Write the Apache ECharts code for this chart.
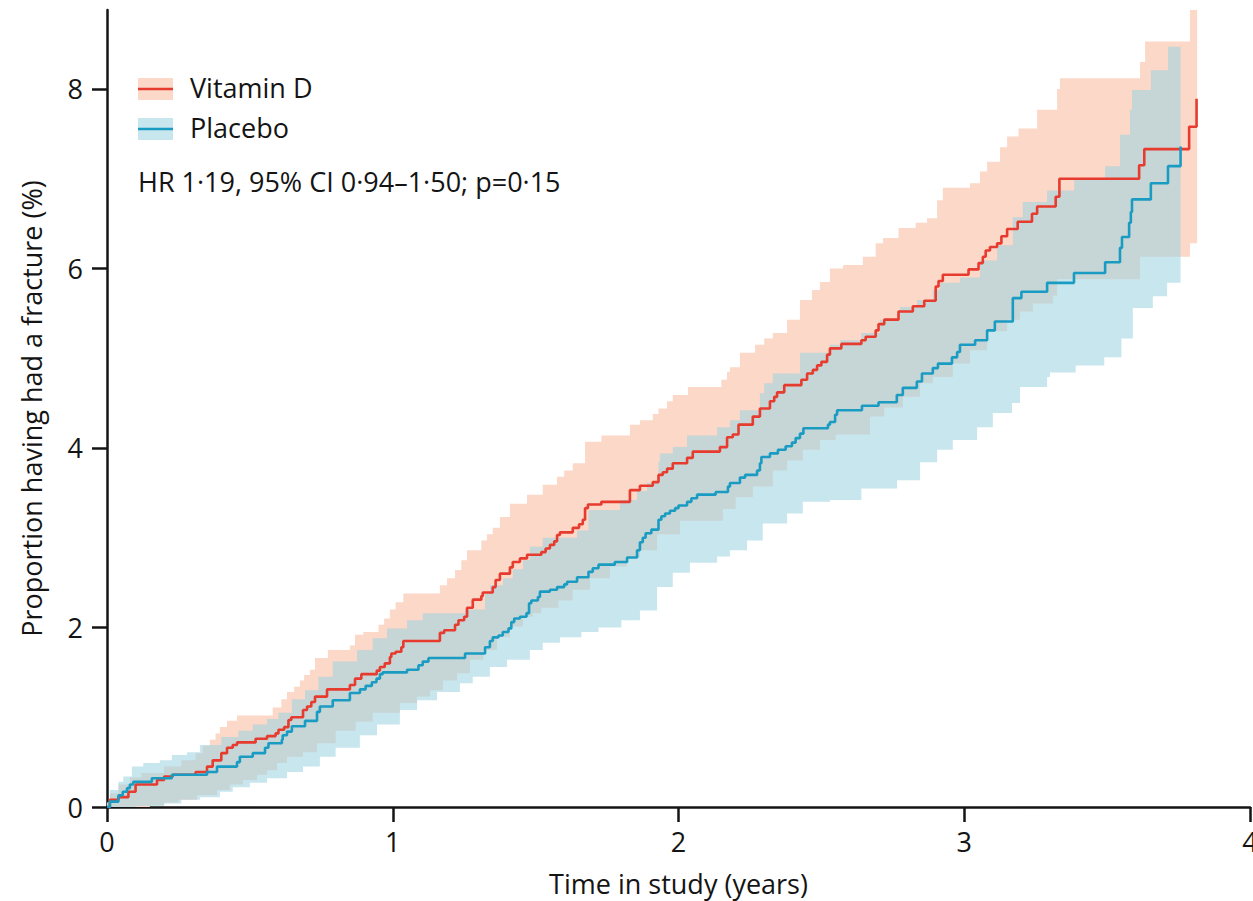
<!DOCTYPE html>
<html>
<head>
<meta charset="utf-8">
<script src="https://cdn.jsdelivr.net/npm/echarts@6/dist/echarts.min.js"></script>
<style>
html,body{margin:0;padding:0;background:#fff;}
#chart{width:1253px;height:901px;}
</style>
</head>
<body>
<div id="chart"></div>
<script>
// ---------- DATA ----------
const seriesNames = ['Vitamin D', 'Placebo'];
const xTicks = [0, 1, 2, 3, 4];
const yTicks = [0, 2, 4, 6, 8];

// Kaplan-Meier estimate, [time in years, cumulative % with fracture]
const vitaminD = [
  [0,0],[0.01,0.08],[0.04,0.11],[0.075,0.17],[0.10,0.25],[0.175,0.30],[0.20,0.34],[0.23,0.36],
  [0.31,0.39],[0.35,0.45],[0.37,0.52],[0.40,0.60],[0.42,0.66],[0.44,0.69],[0.455,0.72],[0.52,0.76],
  [0.56,0.79],[0.59,0.82],[0.60,0.86],[0.62,0.89],[0.635,0.97],[0.645,1.00],[0.686,1.08],[0.70,1.12],
  [0.715,1.17],[0.728,1.23],[0.77,1.31],[0.85,1.36],[0.868,1.43],[0.89,1.48],[0.944,1.52],[0.955,1.56],
  [0.972,1.60],[0.99,1.67],[0.995,1.71],[1.01,1.73],[1.03,1.78],[1.037,1.85],[1.165,1.94],[1.18,1.97],
  [1.218,2.03],[1.23,2.08],[1.25,2.12],[1.26,2.22],[1.28,2.31],[1.31,2.35],[1.315,2.39],[1.35,2.45],
  [1.36,2.53],[1.375,2.60],[1.41,2.67],[1.42,2.73],[1.445,2.77],[1.47,2.81],[1.52,2.84],[1.535,2.88],
  [1.55,2.92],[1.565,2.96],[1.575,3.03],[1.585,3.06],[1.63,3.11],[1.652,3.15],[1.665,3.20],[1.673,3.33],
  [1.683,3.37],[1.73,3.40],[1.83,3.53],[1.865,3.58],[1.91,3.62],[1.93,3.70],[1.945,3.73],[1.96,3.77],
  [1.98,3.83],[2.03,3.89],[2.05,3.96],[2.145,4.01],[2.17,4.12],[2.19,4.15],[2.21,4.26],[2.26,4.35],
  [2.285,4.44],[2.32,4.52],[2.335,4.57],[2.345,4.62],[2.37,4.70],[2.43,4.76],[2.45,4.83],[2.47,4.87],
  [2.485,4.92],[2.50,4.96],[2.52,5.04],[2.53,5.11],[2.57,5.16],[2.64,5.20],[2.655,5.24],[2.69,5.31],
  [2.70,5.38],[2.72,5.43],[2.77,5.52],[2.82,5.58],[2.86,5.64],[2.90,5.80],[2.91,5.86],[2.925,5.93],
  [3.015,5.99],[3.05,6.06],[3.065,6.13],[3.075,6.20],[3.09,6.24],[3.115,6.28],[3.13,6.36],[3.15,6.44],
  [3.187,6.52],[3.237,6.61],[3.255,6.69],[3.32,6.80],[3.333,7.00],[3.612,7.15],[3.63,7.33],[3.787,7.58],
  [3.813,7.89]
];
const placebo = [
  [0,0],[0.01,0.06],[0.04,0.13],[0.055,0.17],[0.07,0.21],[0.08,0.25],[0.092,0.28],[0.157,0.32],
  [0.227,0.36],[0.35,0.39],[0.385,0.45],[0.455,0.50],[0.465,0.56],[0.51,0.60],[0.553,0.66],[0.565,0.71],
  [0.612,0.75],[0.615,0.80],[0.63,0.84],[0.647,0.90],[0.693,0.96],[0.735,1.06],[0.745,1.12],[0.79,1.19],
  [0.85,1.27],[0.885,1.31],[0.905,1.35],[0.927,1.39],[0.943,1.43],[0.955,1.48],[0.965,1.50],[1.05,1.53],
  [1.09,1.58],[1.105,1.62],[1.125,1.66],[1.253,1.71],[1.323,1.78],[1.34,1.85],[1.35,1.89],[1.37,1.91],
  [1.385,1.95],[1.405,1.99],[1.415,2.06],[1.425,2.10],[1.445,2.12],[1.468,2.16],[1.477,2.27],[1.485,2.30],
  [1.508,2.34],[1.515,2.40],[1.55,2.42],[1.575,2.45],[1.60,2.48],[1.61,2.51],[1.645,2.56],[1.685,2.62],
  [1.70,2.66],[1.72,2.70],[1.777,2.73],[1.82,2.78],[1.855,2.86],[1.865,2.95],[1.875,3.00],[1.885,3.05],
  [1.905,3.09],[1.93,3.20],[1.94,3.24],[1.953,3.27],[1.97,3.30],[1.988,3.33],[2.00,3.36],[2.03,3.40],
  [2.045,3.44],[2.065,3.48],[2.13,3.51],[2.173,3.57],[2.18,3.61],[2.215,3.67],[2.233,3.70],[2.275,3.75],
  [2.285,3.83],[2.29,3.90],[2.32,3.94],[2.348,3.98],[2.375,4.02],[2.397,4.06],[2.41,4.11],[2.425,4.16],
  [2.437,4.22],[2.523,4.26],[2.53,4.29],[2.548,4.37],[2.555,4.42],[2.642,4.47],[2.70,4.51],[2.764,4.59],
  [2.785,4.67],[2.834,4.74],[2.852,4.83],[2.89,4.89],[2.908,4.94],[2.957,5.01],[2.975,5.07],[2.985,5.15],
  [3.038,5.20],[3.08,5.31],[3.107,5.41],[3.17,5.67],[3.20,5.74],[3.29,5.84],[3.384,5.95],[3.493,6.07],
  [3.545,6.23],[3.552,6.35],[3.577,6.51],[3.583,6.63],[3.587,6.77],[3.653,6.95],[3.713,7.14],[3.757,7.36]
];

// 95% confidence bands (step functions; last pair marks the end of the band)
const vitaminDUpper = [
  [0,0.05],[0.01,0.15],[0.04,0.25],[0.08,0.33],[0.12,0.38],[0.20,0.45],[0.26,0.52],[0.31,0.60],
  [0.335,0.68],[0.36,0.75],[0.38,0.82],[0.395,0.89],[0.42,0.96],[0.455,1.02],[0.58,1.11],[0.61,1.20],
  [0.63,1.28],[0.655,1.34],[0.675,1.41],[0.69,1.47],[0.71,1.53],[0.728,1.66],[0.773,1.75],[0.85,1.80],
  [0.868,1.92],[0.897,1.95],[0.95,2.03],[0.97,2.10],[0.99,2.20],[1.01,2.28],[1.037,2.38],[1.165,2.47],
  [1.19,2.55],[1.218,2.64],[1.24,2.75],[1.26,2.86],[1.31,2.97],[1.33,3.04],[1.35,3.11],[1.375,3.23],
  [1.41,3.38],[1.47,3.48],[1.525,3.59],[1.575,3.68],[1.60,3.75],[1.63,3.83],[1.673,4.07],[1.73,4.14],
  [1.83,4.26],[1.865,4.31],[1.91,4.38],[1.93,4.44],[1.96,4.52],[1.98,4.59],[2.033,4.68],[2.15,4.76],
  [2.17,4.85],[2.18,4.90],[2.215,5.06],[2.268,5.15],[2.30,5.22],[2.33,5.28],[2.38,5.43],[2.425,5.65],
  [2.467,5.76],[2.495,5.85],[2.53,6.00],[2.576,6.04],[2.645,6.13],[2.69,6.28],[2.716,6.34],[2.77,6.45],
  [2.83,6.51],[2.87,6.56],[2.905,6.76],[2.925,6.90],[3.02,6.95],[3.055,7.08],[3.08,7.19],[3.125,7.35],
  [3.15,7.47],[3.19,7.56],[3.255,7.77],[3.325,8.00],[3.335,8.12],[3.615,8.30],[3.633,8.53],[3.79,8.88],
  [3.815,8.88]
];
const vitaminDLower = [
  [0,0],[0.15,0.02],[0.20,0.05],[0.25,0.08],[0.315,0.13],[0.385,0.19],[0.43,0.25],[0.476,0.30],
  [0.525,0.36],[0.56,0.41],[0.595,0.49],[0.63,0.56],[0.686,0.61],[0.735,0.71],[0.80,0.85],[0.87,0.95],
  [0.93,1.05],[1.025,1.16],[1.085,1.23],[1.13,1.30],[1.176,1.41],[1.225,1.49],[1.27,1.64],[1.317,1.75],
  [1.365,1.89],[1.41,2.01],[1.456,2.12],[1.49,2.16],[1.52,2.22],[1.58,2.30],[1.63,2.42],[1.69,2.55],
  [1.76,2.68],[1.82,2.78],[1.865,2.86],[1.925,3.04],[2.005,3.19],[2.155,3.32],[2.20,3.45],[2.26,3.57],
  [2.33,3.75],[2.38,3.86],[2.435,3.98],[2.495,4.09],[2.55,4.15],[2.67,4.35],[2.72,4.45],[2.785,4.57],
  [2.845,4.72],[2.89,4.79],[2.96,4.94],[3.02,5.09],[3.08,5.30],[3.15,5.43],[3.195,5.52],[3.24,5.61],
  [3.31,5.70],[3.325,5.88],[3.615,6.13],[3.79,6.28],[3.815,6.28]
];
const placeboUpper = [
  [0,0.05],[0.01,0.19],[0.04,0.28],[0.057,0.34],[0.087,0.45],[0.127,0.49],[0.185,0.52],[0.227,0.58],
  [0.28,0.61],[0.325,0.69],[0.40,0.78],[0.46,0.85],[0.51,0.92],[0.56,0.98],[0.60,1.05],[0.647,1.20],
  [0.693,1.30],[0.74,1.45],[0.79,1.62],[0.875,1.75],[0.93,1.88],[0.98,1.99],[1.05,2.08],[1.105,2.16],
  [1.253,2.20],[1.323,2.38],[1.34,2.47],[1.386,2.55],[1.42,2.65],[1.456,2.75],[1.48,2.90],[1.525,3.00],
  [1.645,3.08],[1.685,3.31],[1.795,3.42],[1.855,3.52],[1.89,3.61],[1.93,3.85],[1.935,3.94],[1.98,4.01],
  [2.03,4.14],[2.135,4.23],[2.18,4.31],[2.215,4.42],[2.285,4.61],[2.30,4.72],[2.33,4.83],[2.425,5.06],
  [2.53,5.15],[2.565,5.20],[2.64,5.28],[2.705,5.43],[2.775,5.57],[2.835,5.65],[2.89,5.76],[2.915,5.84],
  [2.985,5.90],[3.055,6.09],[3.115,6.26],[3.17,6.57],[3.205,6.74],[3.29,6.87],[3.385,6.99],[3.493,7.14],
  [3.545,7.49],[3.58,7.77],[3.587,7.99],[3.653,8.21],[3.713,8.47],[3.757,8.47]
];
const placeboLower = [
  [0,0],[0.10,0.01],[0.20,0.04],[0.26,0.08],[0.325,0.11],[0.395,0.17],[0.44,0.22],[0.50,0.27],
  [0.56,0.32],[0.63,0.39],[0.686,0.45],[0.745,0.56],[0.80,0.66],[0.885,0.80],[0.945,0.92],[1.025,1.08],
  [1.085,1.19],[1.155,1.28],[1.235,1.38],[1.28,1.45],[1.34,1.56],[1.40,1.64],[1.48,1.75],[1.525,1.83],
  [1.585,1.89],[1.66,1.95],[1.72,2.00],[1.80,2.08],[1.865,2.19],[1.925,2.45],[1.98,2.61],[2.04,2.72],
  [2.135,2.79],[2.18,2.86],[2.24,2.97],[2.295,3.16],[2.38,3.27],[2.435,3.40],[2.53,3.42],[2.64,3.55],
  [2.765,3.64],[2.845,3.84],[2.905,3.98],[2.96,4.09],[3.045,4.23],[3.10,4.39],[3.167,4.50],[3.195,4.68],
  [3.29,4.79],[3.30,4.84],[3.39,4.92],[3.49,5.01],[3.55,5.22],[3.59,5.56],[3.66,5.69],[3.71,5.84],
  [3.757,5.84]
];
const annotation = 'HR 1·19, 95% CI 0·94–1·50; p=0·15';

// ---------- STYLE ----------
const FONT = 'Open Sans';
const RED = '#e63b2e';
const BLUE = '#1a9cc2';
const PINK_BAND = '#fbd8c8';
const BLUE_BAND = 'rgba(157,210,225,0.56)';
const BLUE_LEGEND = '#c8e6ee';
const INK = '#141414';

function bandSeries(name, upper, lower, fill) {
  return {
    type: 'custom',
    name: name,
    coordinateSystem: 'cartesian2d',
    silent: true,
    z: 1,
    data: [[upper[0][0], upper[0][1]]],
    renderItem: function (params, api) {
      const pts = [];
      for (let i = 0; i < upper.length; i++) {
        pts.push(api.coord([upper[i][0], upper[i][1]]));
        if (i + 1 < upper.length) pts.push(api.coord([upper[i + 1][0], upper[i][1]]));
      }
      const n = lower.length - 1;
      pts.push(api.coord([lower[n][0], lower[n][1]]));
      for (let i = n - 1; i >= 0; i--) {
        pts.push(api.coord([lower[i + 1][0], lower[i][1]]));
        pts.push(api.coord([lower[i][0], lower[i][1]]));
      }
      return { type: 'polygon', shape: { points: pts }, style: { fill: fill, stroke: null } };
    }
  };
}

function kmLine(name, data, color, z) {
  return {
    type: 'line', name: name, data: data, step: 'end', symbol: 'none', z: z,
    lineStyle: { color: color, width: 2.6 }, itemStyle: { color: color },
    emphasis: { disabled: true }, silent: true
  };
}

const chart = echarts.init(document.getElementById('chart'), null, { renderer: 'svg' });
const axisCommon = {
  axisLine: { show: true, lineStyle: { color: INK, width: 2.5 } },
  axisTick: { show: true, length: 15, lineStyle: { color: INK, width: 2.5 } },
  splitLine: { show: false },
  nameTextStyle: { fontFamily: FONT, fontSize: 27, color: INK }
};

chart.setOption({
  animation: false,
  backgroundColor: '#fff',
  textStyle: { fontFamily: FONT },
  grid: { left: 107, right: 3, top: 10, bottom: 94, containLabel: false, outerBoundsMode: 'none' },
  xAxis: Object.assign({}, axisCommon, {
    type: 'value', min: 0, max: 4, interval: 1,
    name: 'Time in study (years)', nameLocation: 'middle', nameGap: 63,
    axisTick: Object.assign({}, axisCommon.axisTick, { customValues: xTicks }),
    axisLabel: { customValues: xTicks, fontFamily: FONT, fontSize: 27, color: INK, margin: 21, hideOverlap: false },
  }),
  yAxis: Object.assign({}, axisCommon, {
    type: 'value', min: 0, max: 8.88, interval: 2,
    name: 'Proportion having had a fracture (%)', nameLocation: 'middle', nameGap: 62,
    axisTick: Object.assign({}, axisCommon.axisTick, { customValues: yTicks }),
    axisLabel: { customValues: yTicks, fontFamily: FONT, fontSize: 27, color: INK, margin: 24 }
  }),
  series: [
    bandSeries('Vitamin D 95% CI', vitaminDUpper, vitaminDLower, PINK_BAND),
    bandSeries('Placebo 95% CI', placeboUpper, placeboLower, BLUE_BAND),
    kmLine(seriesNames[0], vitaminD, RED, 3),
    kmLine(seriesNames[1], placebo, BLUE, 4)
  ],
  graphic: [
    { type: 'rect', left: 138, top: 78, shape: { width: 35, height: 22 }, style: { fill: PINK_BAND }, z: 10 },
    { type: 'line', shape: { x1: 138, y1: 89, x2: 173, y2: 89 }, style: { stroke: RED, lineWidth: 2.6 }, z: 11 },
    { type: 'text', left: 190, top: 74, style: { text: seriesNames[0], font: '27px "Open Sans"', fill: INK }, z: 11 },
    { type: 'rect', left: 138, top: 118, shape: { width: 35, height: 22 }, style: { fill: BLUE_LEGEND }, z: 10 },
    { type: 'line', shape: { x1: 138, y1: 129, x2: 173, y2: 129 }, style: { stroke: BLUE, lineWidth: 2.6 }, z: 11 },
    { type: 'text', left: 190, top: 114, style: { text: seriesNames[1], font: '27px "Open Sans"', fill: INK }, z: 11 },
    { type: 'text', left: 138, top: 168, style: { text: annotation, font: '27px "Open Sans"', fill: INK }, z: 11 }
  ]
});
</script>
</body>
</html>
